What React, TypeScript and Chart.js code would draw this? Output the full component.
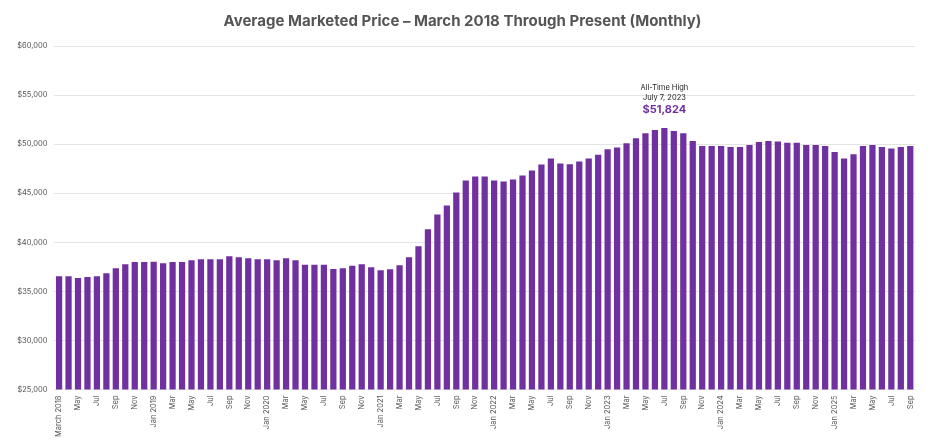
import { useEffect, useRef } from 'react'
import { Chart, registerables } from 'chart.js'

Chart.register(...registerables)

const MONTHS = ['Jan', 'Feb', 'Mar', 'Apr', 'May', 'Jun', 'Jul', 'Aug', 'Sep', 'Oct', 'Nov', 'Dec']

// monthly average marketed price, March 2018 -> Sep 2025
const P2018 = [36550, 36550, 36350, 36450, 36550, 36850, 37350, 37750, 38000, 38000]
const P2019 = [38020, 37870, 38000, 38000, 38170, 38270, 38270, 38270, 38580, 38480, 38370, 38270]
const P2020 = [38270, 38170, 38370, 38170, 37720, 37720, 37700, 37290, 37360, 37600, 37770, 37460]
const P2021 = [37160, 37260, 37670, 38480, 39590, 41320, 42840, 43760, 45080, 46300, 46700, 46700]
const P2022 = [46300, 46190, 46400, 46800, 47310, 47920, 48530, 48020, 47950, 48220, 48530, 48930]
const P2023 = [49480, 49660, 50080, 50590, 51110, 51450, 51650, 51350, 51110, 50330, 49820, 49820]
const P2024 = [49820, 49720, 49720, 49920, 50230, 50330, 50260, 50130, 50130, 49920, 49920, 49820]
const P2025 = [49210, 48530, 48970, 49820, 49920, 49720, 49560, 49720, 49820]

const YEAR_VALUES: [number, number[]][] = [
  [2018, P2018], [2019, P2019], [2020, P2020], [2021, P2021],
  [2022, P2022], [2023, P2023], [2024, P2024], [2025, P2025],
]

const LABELS: string[] = []
const VALUES: number[] = []
YEAR_VALUES.forEach(([year, vals]) => {
  const start = year === 2018 ? 2 : 0
  vals.forEach((v, i) => {
    const m = start + i
    LABELS.push(year === 2018 && m === 2 ? 'March 2018' : m === 0 ? `Jan ${year}` : MONTHS[m])
    VALUES.push(v)
  })
})

const HIGH_INDEX = 64 // Jul 2023
const HIGH_LINES = ['All-Time High', 'July 7, 2023']
const HIGH_VALUE = '$51,824'

const PURPLE = '#7030a0'
const FONT = 'Inter, "Noto Sans", sans-serif'

const highLabel = {
  id: 'highLabel',
  afterDatasetsDraw(chart: Chart) {
    const { ctx, scales } = chart
    const x = scales.x.getPixelForValue(HIGH_INDEX)
    const top = scales.y.getPixelForValue(VALUES[HIGH_INDEX])
    ctx.save()
    ctx.textAlign = 'center'
    ctx.textBaseline = 'middle'
    ctx.fillStyle = '#222'
    ctx.font = `7.5px ${FONT}`
    ctx.fillText(HIGH_LINES[0], x, top - 40)
    ctx.fillText(HIGH_LINES[1], x, top - 30)
    ctx.fillStyle = PURPLE
    ctx.font = `bold 11px ${FONT}`
    ctx.fillText(HIGH_VALUE, x, top - 18)
    ctx.restore()
  },
}

export default function App() {
  const ref = useRef<HTMLCanvasElement>(null)
  const chart = useRef<Chart | null>(null)

  useEffect(() => {
    if (!ref.current) return
    chart.current?.destroy()
    chart.current = new Chart(ref.current, {
      type: 'bar',
      data: {
        labels: LABELS,
        datasets: [
          {
            data: VALUES,
            backgroundColor: PURPLE,
            barPercentage: 0.66,
            categoryPercentage: 1,
          },
        ],
      },
      options: {
        responsive: true,
        maintainAspectRatio: false,
        animation: false,
        layout: { padding: { left: 10, right: 13, top: 4, bottom: 1 } },
        plugins: {
          legend: { display: false },
          tooltip: { enabled: false },
          title: {
            display: true,
            text: 'Average Marketed Price – March 2018 Through Present (Monthly)',
            color: '#555',
            font: { family: FONT, size: 15, weight: 'bold' },
            padding: { top: 8, bottom: 16 },
          },
        },
        scales: {
          x: {
            grid: { display: false, drawTicks: false },
            border: { display: false },
            ticks: {
              autoSkip: false,
              maxRotation: 90,
              minRotation: 90,
              color: '#555',
              font: { family: FONT, size: 7.5 },
              padding: 6,
              callback: (_v, i) => (i % 2 === 0 ? LABELS[i] : ''),
            },
          },
          y: {
            min: 25000,
            max: 60000,
            border: { display: false },
            grid: { color: '#e4e4e4', drawTicks: false },
            ticks: {
              stepSize: 5000,
              color: '#555',
              font: { family: FONT, size: 7.5 },
              padding: 7,
              callback: (v) => '$' + Number(v).toLocaleString('en-US'),
            },
          },
        },
      },
      plugins: [highLabel],
    })
    return () => chart.current?.destroy()
  }, [])

  return (
    <div style={{ position: 'absolute', left: 0, top: 0, width: 928, height: 444, background: '#fff' }}>
      <canvas ref={ref} role="img" aria-label="Average marketed price, monthly bar chart" />
    </div>
  )
}
